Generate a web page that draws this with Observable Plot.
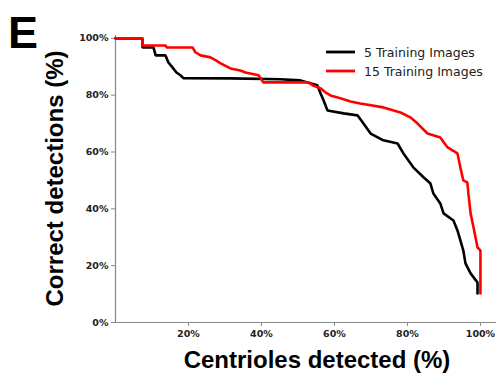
<!DOCTYPE html>
<html>
<head>
<meta charset="utf-8">
<script src="https://cdn.jsdelivr.net/npm/d3@7"></script>
<script src="https://cdn.jsdelivr.net/npm/@observablehq/plot@0.6"></script>
<style>
  html, body { margin: 0; padding: 0; background: #fff; }
  #chart { width: 498px; height: 375px; }
</style>
</head>
<body>
<div id="chart"></div>
<script>
// Series names
const seriesNames = ["5 Training Images", "15 Training Images"];
const seriesColors = ["#000000", "#ff0000"];

// 5 Training Images: centrioles detected (%) vs correct detections (%)
const fiveX = [0, 7.4, 7.4, 10.4, 11.0, 13.7, 14.5, 15.6, 16.7, 17.8, 18.6, 31.5, 45.2, 50.7, 55.3, 56.2, 57.0, 58.1, 62.5, 66.3, 67.9, 69.9, 73.4, 77.3, 78.9, 81.6, 84.4, 86.3, 87.1, 89.0, 89.9, 92.6, 93.7, 94.5, 95.3, 95.9, 97.3, 99.2, 99.2];
const fiveY = [100, 100, 96.8, 96.8, 94.0, 94.0, 91.5, 89.8, 88.0, 87.0, 86.0, 85.9, 85.6, 85.2, 83.5, 80.6, 78.2, 74.6, 73.6, 72.9, 70.1, 66.5, 64.1, 63.0, 59.5, 54.6, 51.1, 48.9, 45.4, 41.9, 38.4, 35.9, 32.4, 28.9, 25.4, 20.8, 17.3, 14.1, 10.2];

// 15 Training Images
const fifteenX = [0, 7.4, 7.4, 13.7, 14.0, 21.1, 21.9, 23.3, 26.0, 27.4, 28.8, 31.5, 34.2, 35.6, 39.2, 40.5, 52.9, 54.0, 56.2, 57.5, 58.9, 61.6, 64.4, 67.1, 73.4, 78.1, 80.8, 82.7, 85.5, 89.0, 91.0, 93.7, 94.5, 95.3, 96.4, 96.7, 97.3, 98.1, 99.2, 100, 100];
const fifteenY = [100, 100, 97.5, 97.5, 96.8, 96.8, 95.1, 94.0, 93.3, 92.3, 91.2, 89.4, 88.7, 88.0, 87.0, 84.5, 84.5, 83.5, 82.4, 81.0, 79.9, 78.9, 77.8, 77.1, 75.7, 73.9, 72.2, 70.1, 66.5, 65.1, 61.6, 59.5, 54.6, 50.0, 49.3, 45.4, 38.4, 33.5, 26.4, 25.4, 10.2];

// Tick values
const xTicks = [20, 40, 60, 80, 100];
const yTicks = [0, 20, 40, 60, 80, 100];

// Texts
const panelLetter = "E";
const xTitle = "Centrioles detected (%)";
const yTitle = "Correct detections (%)";

const data = [
  ...fiveX.map((x, i) => ({x, y: fiveY[i], s: seriesNames[0]})),
  ...fifteenX.map((x, i) => ({x, y: fifteenY[i], s: seriesNames[1]}))
];

const W = 498, H = 375;
const plot = Plot.plot({
  width: W,
  height: H,
  marginLeft: 115,
  marginRight: 2,
  marginTop: 35,
  marginBottom: 53,
  x: {domain: [0, 104.4]},
  y: {domain: [0, 101]},
  color: {domain: seriesNames, range: seriesColors},
  style: {fontFamily: "DejaVu Sans", fontSize: "9.5px", fontWeight: "bold", background: "#fff", overflow: "visible"},
  marks: [
    Plot.axisY({ticks: yTicks, tickFormat: d => d + "%", tickSize: 4, tickPadding: 3, stroke: "#888", fill: "#222", label: null}),
    Plot.axisX({ticks: xTicks, tickFormat: d => d + "%", tickSize: 4, tickPadding: 4, stroke: "#888", fill: "#222", label: null}),
    Plot.ruleX([0], {stroke: "#888", strokeWidth: 1.2}),
    Plot.ruleY([0], {stroke: "#888", strokeWidth: 1.2}),
    Plot.line(data, {x: "x", y: "y", z: "s", stroke: "s", strokeWidth: 2.6, curve: "linear", strokeLinejoin: "miter"})
  ]
});
document.getElementById("chart").appendChild(plot);

const svg = d3.select(plot);
const sans = "Liberation Sans, Arial, sans-serif";
// Panel letter
svg.append("text").attr("x", 8).attr("y", 48).attr("text-anchor", "start")
  .attr("font-family", sans).attr("font-weight", "bold")
  .attr("font-size", 45).attr("fill", "#000").text(panelLetter);
// Axis titles
svg.append("text").attr("x", 317).attr("y", 368).attr("text-anchor", "middle")
  .attr("font-family", sans).attr("font-weight", "bold")
  .attr("font-size", 24).attr("fill", "#000").text(xTitle);
svg.append("text").attr("transform", "translate(63,178.5) rotate(-90)").attr("text-anchor", "middle")
  .attr("font-family", sans).attr("font-weight", "bold")
  .attr("font-size", 24).attr("fill", "#000").text(yTitle);
// Legend
const legendY = [52, 71];
seriesNames.forEach((name, i) => {
  svg.append("line").attr("x1", 326).attr("x2", 355).attr("y1", legendY[i]).attr("y2", legendY[i])
    .attr("stroke", seriesColors[i]).attr("stroke-width", 2.8);
  svg.append("text").attr("x", 364).attr("y", legendY[i] + 4.5).attr("text-anchor", "start")
    .attr("font-family", "DejaVu Sans, sans-serif").attr("font-weight", "normal")
    .attr("font-size", 12.5).attr("fill", "#222").text(name);
});
</script>
</body>
</html>
